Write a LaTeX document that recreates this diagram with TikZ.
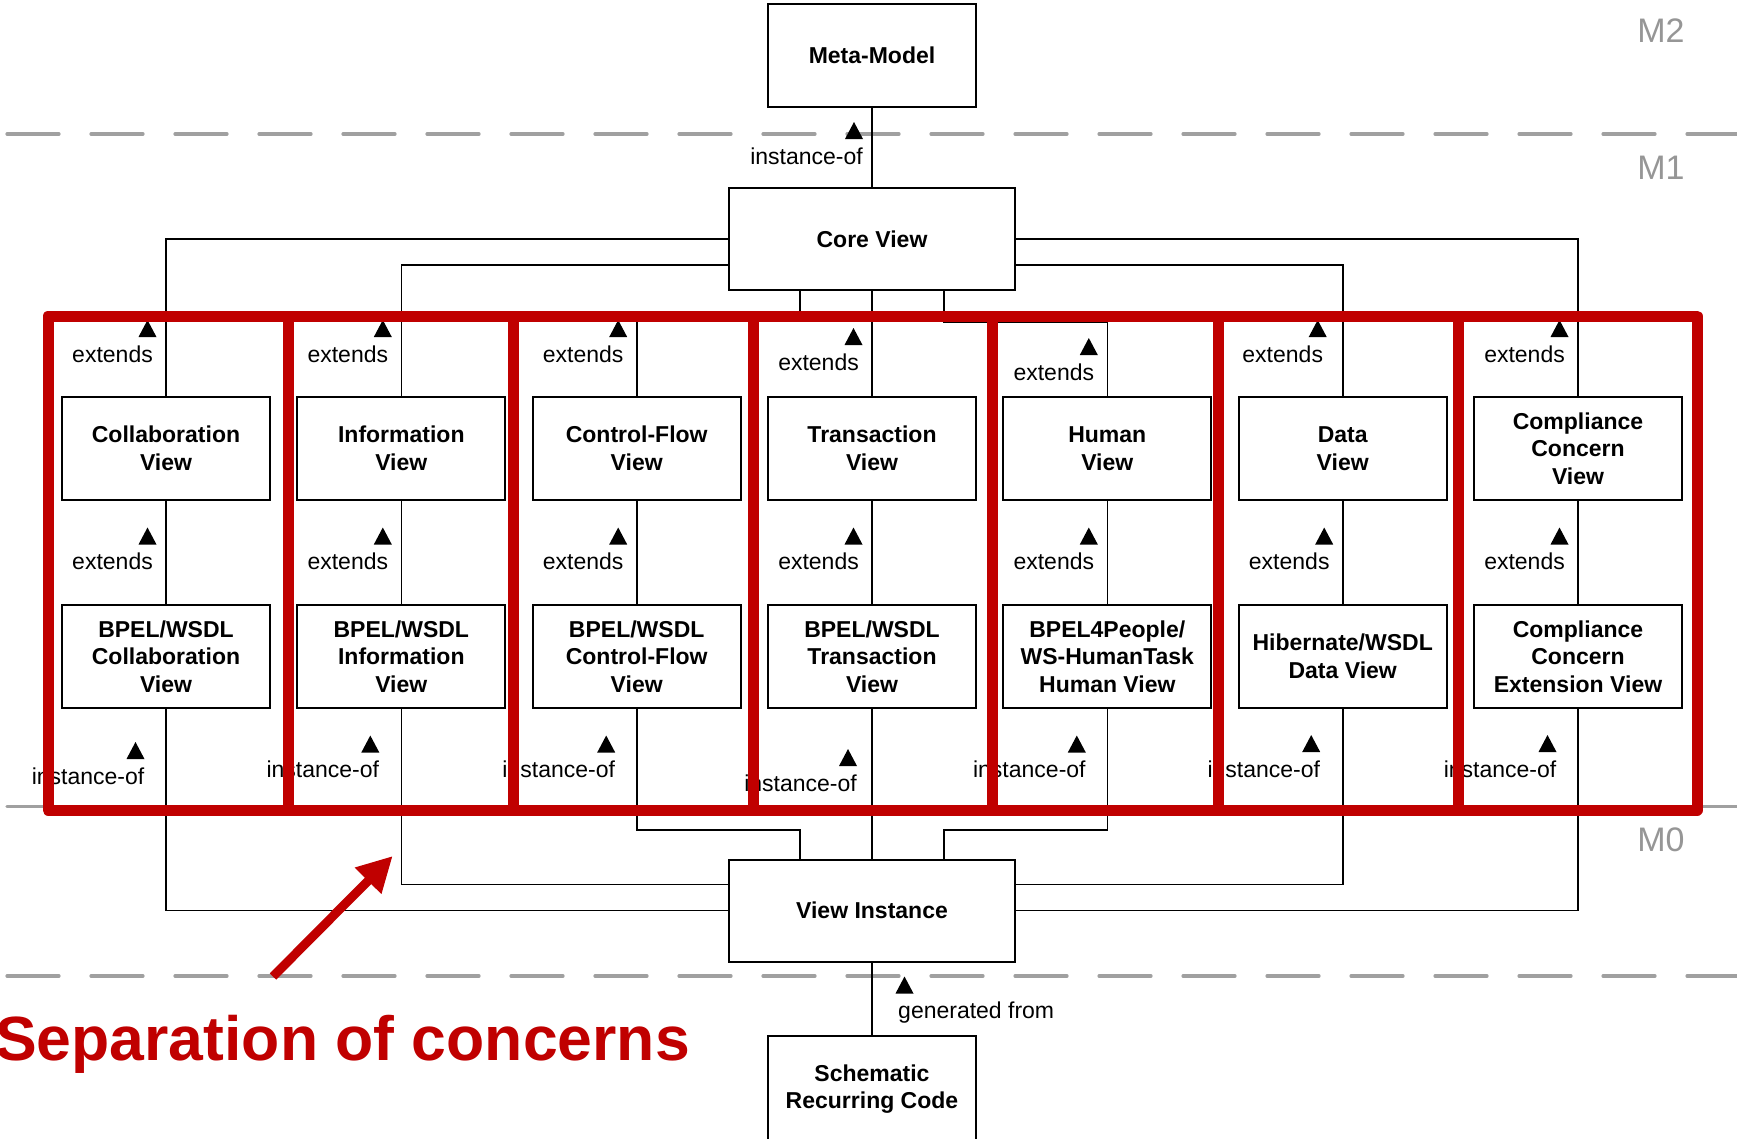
\documentclass[tikz,border=0pt]{standalone}
\usepackage{fontspec}
\setmainfont{Liberation Sans}
\usetikzlibrary{arrows.meta}
\definecolor{concernred}{HTML}{C00000}
\definecolor{levelgray}{HTML}{A0A0A0}
\definecolor{leveltextgray}{HTML}{969696}
\newcommand\lblsize{\fontsize{23}{27.5}\selectfont}
\newcommand\boxsize{\fontsize{23}{27.5}\selectfont\bfseries}

\begin{document}
\begin{tikzpicture}[x=1pt,y=-1pt,
  box/.style={draw, line width=2pt, minimum width=208pt, minimum height=103pt,
              align=center, inner sep=0pt, font=\boxsize},
  widebox/.style={box, minimum width=286pt, minimum height=102pt},
  conn/.style={line width=1.6pt},
  lbl/.style={font=\lblsize, inner sep=0pt},
  levelline/.style={draw=levelgray, line width=3.2pt, line cap=round,
                    dash pattern=on 52pt off 32pt},
  leveltag/.style={font=\fontsize{34}{40}\selectfont, text=leveltextgray, inner sep=0pt},
  redframe/.style={draw=concernred, line width=11pt, line join=round},
  markertri/.pic={\fill (-9,8) -- (9,8) -- (0,-9) -- cycle;}
]
\useasboundingbox (0,0) rectangle (1737,1138);
\fill[white] (0,0) rectangle (1737,1138);

% meta-level separators
\draw[levelline] (7,134) -- (1737,134);
\draw[levelline] (7,806.5) -- (1737,806.5);
\draw[levelline] (7,976) -- (1737,976);

% central chain
\node[box] (meta) at (872,55.5) {Meta-Model};
\node[widebox] (core) at (872,239) {Core View};
\node[widebox] (vi) at (872,910.5) {View Instance};
\node[box, minimum height=107pt] (src) at (872,1089) {Schematic\\Recurring Code};

% concern views
\node[box] (u1) at (166,448.5) {Collaboration\\View};
\node[box] (u2) at (401.3,448.5) {Information\\View};
\node[box] (u3) at (636.7,448.5) {Control-Flow\\View};
\node[box] (u4) at (872,448.5) {Transaction\\View};
\node[box] (u5) at (1107.3,448.5) {Human\\View};
\node[box] (u6) at (1342.7,448.5) {Data\\View};
\node[box] (u7) at (1578,448.5) {Compliance\\Concern\\View};

% technology-specific views
\node[box] (l1) at (166,656.5) {BPEL/WSDL\\Collaboration\\View};
\node[box] (l2) at (401.3,656.5) {BPEL/WSDL\\Information\\View};
\node[box] (l3) at (636.7,656.5) {BPEL/WSDL\\Control-Flow\\View};
\node[box] (l4) at (872,656.5) {BPEL/WSDL\\Transaction\\View};
\node[box] (l5) at (1107.3,656.5) {BPEL4People/\\WS-HumanTask\\Human View};
\node[box] (l6) at (1342.7,656.5) {Hibernate/WSDL\\Data View};
\node[box] (l7) at (1578,656.5) {Compliance\\Concern\\Extension View};

% connectors
\draw[conn] (meta) -- (core);
\draw[conn] (core.west) -| (u1.north);
\draw[conn] ([yshift=-26pt]core.west) -| (u2.north);
\draw[conn] ([xshift=-72pt]core.south) -- ++(0,25) -| (u3.north);
\draw[conn] (core) -- (u4);
\draw[conn] ([xshift=72pt]core.south) -- ++(0,31) -| (u5.north);
\draw[conn] ([yshift=-26pt]core.east) -| (u6.north);
\draw[conn] (core.east) -| (u7.north);
\foreach \i in {1,...,7} \draw[conn] (u\i) -- (l\i);
\draw[conn] (l1.south) |- (vi.west);
\draw[conn] (l2.south) |- ([yshift=26pt]vi.west);
\draw[conn] (l3.south) -- ++(0,121) -| ([xshift=-72pt]vi.north);
\draw[conn] (l4) -- (vi);
\draw[conn] (l5.south) -- ++(0,121) -| ([xshift=72pt]vi.north);
\draw[conn] (l6.south) |- ([yshift=26pt]vi.east);
\draw[conn] (l7.south) |- (vi.east);
\draw[conn] (vi) -- (src);

% relation labels
\pic at (854,131) {markertri};
\node[lbl, anchor=base east] (lmeta) at (863,164) {instance-of};
\foreach \cx/\ty/\dx [count=\i] in {166/329/18.5, 401.3/329/18.5, 636.7/329/18.5, 872/337/18.5, 1107.3/347/18.5, 1342.7/329/25, 1578/329/18.5} {
  \pic at (\cx-\dx,\ty) {markertri};
  \node[lbl, anchor=base east] (extup\i) at (\cx-\dx+5.5,\ty+33) {extends};
  \pic at (\cx-18.5,536.5) {markertri};
  \node[lbl, anchor=base east] (extmid\i) at (\cx-13,569.5) {extends};
}
\foreach \cx/\ty/\dx [count=\i] in {166/751/30.5, 401.3/744.5/31, 636.7/744.5/30.5, 872/758/24, 1107.3/744.5/30.5, 1342.7/744/31.5, 1578/744/30.5} {
  \pic at (\cx-\dx,\ty) {markertri};
  \node[lbl, anchor=base east] (inst\i) at (\cx-\dx+9,\ty+33) {instance-of};
}
\pic at (904.5,985.5) {markertri};
\node[lbl, anchor=base west] (lgen) at (898,1018.5) {generated from};

% concern columns
\draw[redframe] (48,316) rectangle (1697,810);
\foreach \x in {288,513,753,992,1218,1458} \draw[redframe] (\x,316) -- (\x,810);

% pointer and caption
\coordinate (arrtail) at (273,976.5);
\coordinate (arrhead) at (392.7,856);
\draw[concernred, line width=9pt, -{Triangle[length=35pt,width=35pt]}] (arrtail) -- (arrhead);
\node[anchor=base west, inner sep=0pt, font=\fontsize{62.5}{70}\selectfont\bfseries,
      text=concernred] (soc) at (-5,1060.7) {Separation of concerns};

% level tags
\node[leveltag] (m2) at (1661,31) {M2};
\node[leveltag] (m1) at (1661,167.5) {M1};
\node[leveltag] (m0) at (1661,840) {M0};
\end{tikzpicture}
\end{document}
